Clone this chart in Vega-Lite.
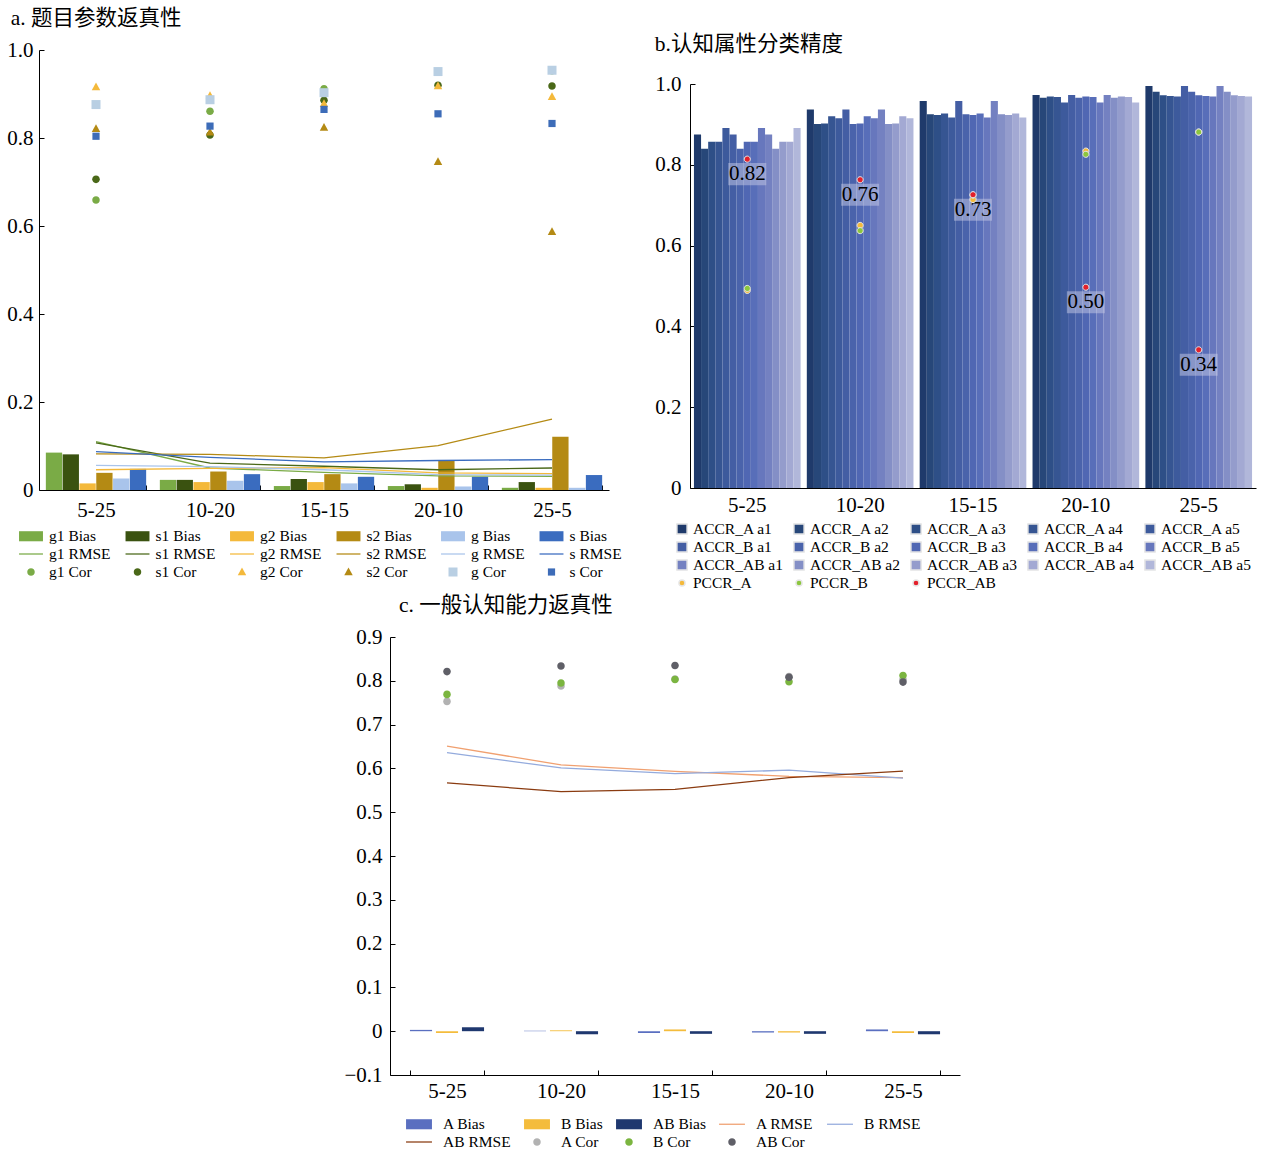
{
 "$schema": "https://vega.github.io/schema/vega-lite/v6.json",
 "background": "white",
 "padding": {"left": 6, "top": 7, "right": 2, "bottom": 2},
 "config": {
  "font": "Liberation Serif, Noto Sans CJK SC, serif",
  "view": {"stroke": null},
  "axis": {"grid": false, "domainColor": "#000", "tickColor": "#000", "labelColor": "#000", "labelFontSize": 21, "labelFont": "Liberation Serif", "tickSize": -5, "domainWidth": 1, "tickWidth": 1},
  "axisX": {"labelAngle": 0},
  "legend": {"labelFont": "Liberation Serif", "labelFontSize": 15.5, "labelColor": "#000", "rowPadding": 0, "orient": "none", "direction": "horizontal"},
  "title": {"font": "Liberation Serif, Noto Sans CJK SC, serif", "fontSize": 21.5, "fontWeight": "normal", "color": "#000", "anchor": "start"}
 },
 "datasets": {
  "aBias": [
   {"cond":"5-25","series":"g1 Bias","value":0.085},{"cond":"5-25","series":"s1 Bias","value":0.081},{"cond":"5-25","series":"g2 Bias","value":0.015},{"cond":"5-25","series":"s2 Bias","value":0.039},{"cond":"5-25","series":"g Bias","value":0.026},{"cond":"5-25","series":"s Bias","value":0.048},
   {"cond":"10-20","series":"g1 Bias","value":0.023},{"cond":"10-20","series":"s1 Bias","value":0.023},{"cond":"10-20","series":"g2 Bias","value":0.018},{"cond":"10-20","series":"s2 Bias","value":0.042},{"cond":"10-20","series":"g Bias","value":0.021},{"cond":"10-20","series":"s Bias","value":0.036},
   {"cond":"15-15","series":"g1 Bias","value":0.009},{"cond":"15-15","series":"s1 Bias","value":0.025},{"cond":"15-15","series":"g2 Bias","value":0.018},{"cond":"15-15","series":"s2 Bias","value":0.036},{"cond":"15-15","series":"g Bias","value":0.015},{"cond":"15-15","series":"s Bias","value":0.030},
   {"cond":"20-10","series":"g1 Bias","value":0.009},{"cond":"20-10","series":"s1 Bias","value":0.013},{"cond":"20-10","series":"g2 Bias","value":0.005},{"cond":"20-10","series":"s2 Bias","value":0.068},{"cond":"20-10","series":"g Bias","value":0.008},{"cond":"20-10","series":"s Bias","value":0.030},
   {"cond":"25-5","series":"g1 Bias","value":0.005},{"cond":"25-5","series":"s1 Bias","value":0.018},{"cond":"25-5","series":"g2 Bias","value":0.005},{"cond":"25-5","series":"s2 Bias","value":0.121},{"cond":"25-5","series":"g Bias","value":0.005},{"cond":"25-5","series":"s Bias","value":0.034}
  ],
  "aRMSE": [
   {"cond":"5-25","series":"g1 RMSE","value":0.110},{"cond":"10-20","series":"g1 RMSE","value":0.050},{"cond":"15-15","series":"g1 RMSE","value":0.040},{"cond":"20-10","series":"g1 RMSE","value":0.032},{"cond":"25-5","series":"g1 RMSE","value":0.031},
   {"cond":"5-25","series":"s1 RMSE","value":0.107},{"cond":"10-20","series":"s1 RMSE","value":0.061},{"cond":"15-15","series":"s1 RMSE","value":0.054},{"cond":"20-10","series":"s1 RMSE","value":0.046},{"cond":"25-5","series":"s1 RMSE","value":0.050},
   {"cond":"5-25","series":"g2 RMSE","value":0.046},{"cond":"10-20","series":"g2 RMSE","value":0.049},{"cond":"15-15","series":"g2 RMSE","value":0.051},{"cond":"20-10","series":"g2 RMSE","value":0.039},{"cond":"25-5","series":"g2 RMSE","value":0.037},
   {"cond":"5-25","series":"s2 RMSE","value":0.082},{"cond":"10-20","series":"s2 RMSE","value":0.081},{"cond":"15-15","series":"s2 RMSE","value":0.073},{"cond":"20-10","series":"s2 RMSE","value":0.101},{"cond":"25-5","series":"s2 RMSE","value":0.161},
   {"cond":"5-25","series":"g RMSE","value":0.056},{"cond":"10-20","series":"g RMSE","value":0.053},{"cond":"15-15","series":"g RMSE","value":0.046},{"cond":"20-10","series":"g RMSE","value":0.035},{"cond":"25-5","series":"g RMSE","value":0.034},
   {"cond":"5-25","series":"s RMSE","value":0.087},{"cond":"10-20","series":"s RMSE","value":0.074},{"cond":"15-15","series":"s RMSE","value":0.064},{"cond":"20-10","series":"s RMSE","value":0.067},{"cond":"25-5","series":"s RMSE","value":0.069}
  ],
  "aCor": [
   {"cond":"5-25","series":"g1 Cor","value":0.659},{"cond":"10-20","series":"g1 Cor","value":0.861},{"cond":"15-15","series":"g1 Cor","value":0.912},{"cond":"20-10","series":"g1 Cor","value":0.950},{"cond":"25-5","series":"g1 Cor","value":0.953},
   {"cond":"5-25","series":"s1 Cor","value":0.706},{"cond":"10-20","series":"s1 Cor","value":0.807},{"cond":"15-15","series":"s1 Cor","value":0.886},{"cond":"20-10","series":"s1 Cor","value":0.920},{"cond":"25-5","series":"s1 Cor","value":0.918},
   {"cond":"5-25","series":"g2 Cor","value":0.916},{"cond":"10-20","series":"g2 Cor","value":0.896},{"cond":"15-15","series":"g2 Cor","value":0.878},{"cond":"20-10","series":"g2 Cor","value":0.918},{"cond":"25-5","series":"g2 Cor","value":0.894},
   {"cond":"5-25","series":"s2 Cor","value":0.821},{"cond":"10-20","series":"s2 Cor","value":0.813},{"cond":"15-15","series":"s2 Cor","value":0.824},{"cond":"20-10","series":"s2 Cor","value":0.746},{"cond":"25-5","series":"s2 Cor","value":0.587},
   {"cond":"5-25","series":"g Cor","value":0.876},{"cond":"10-20","series":"g Cor","value":0.887},{"cond":"15-15","series":"g Cor","value":0.903},{"cond":"20-10","series":"g Cor","value":0.951},{"cond":"25-5","series":"g Cor","value":0.954},
   {"cond":"5-25","series":"s Cor","value":0.804},{"cond":"10-20","series":"s Cor","value":0.827},{"cond":"15-15","series":"s Cor","value":0.865},{"cond":"20-10","series":"s Cor","value":0.855},{"cond":"25-5","series":"s Cor","value":0.833}
  ],
  "bACCR": [
   {"cond":"5-25","series":"ACCR_A a1","value":0.875},{"cond":"5-25","series":"ACCR_A a2","value":0.840},{"cond":"5-25","series":"ACCR_A a3","value":0.857},{"cond":"5-25","series":"ACCR_A a4","value":0.857},{"cond":"5-25","series":"ACCR_A a5","value":0.891},
   {"cond":"5-25","series":"ACCR_B a1","value":0.875},{"cond":"5-25","series":"ACCR_B a2","value":0.840},{"cond":"5-25","series":"ACCR_B a3","value":0.857},{"cond":"5-25","series":"ACCR_B a4","value":0.857},{"cond":"5-25","series":"ACCR_B a5","value":0.891},
   {"cond":"5-25","series":"ACCR_AB a1","value":0.875},{"cond":"5-25","series":"ACCR_AB a2","value":0.840},{"cond":"5-25","series":"ACCR_AB a3","value":0.857},{"cond":"5-25","series":"ACCR_AB a4","value":0.857},{"cond":"5-25","series":"ACCR_AB a5","value":0.891},
   {"cond":"10-20","series":"ACCR_A a1","value":0.937},{"cond":"10-20","series":"ACCR_A a2","value":0.901},{"cond":"10-20","series":"ACCR_A a3","value":0.902},{"cond":"10-20","series":"ACCR_A a4","value":0.920},{"cond":"10-20","series":"ACCR_A a5","value":0.915},
   {"cond":"10-20","series":"ACCR_B a1","value":0.937},{"cond":"10-20","series":"ACCR_B a2","value":0.901},{"cond":"10-20","series":"ACCR_B a3","value":0.902},{"cond":"10-20","series":"ACCR_B a4","value":0.920},{"cond":"10-20","series":"ACCR_B a5","value":0.915},
   {"cond":"10-20","series":"ACCR_AB a1","value":0.937},{"cond":"10-20","series":"ACCR_AB a2","value":0.901},{"cond":"10-20","series":"ACCR_AB a3","value":0.902},{"cond":"10-20","series":"ACCR_AB a4","value":0.920},{"cond":"10-20","series":"ACCR_AB a5","value":0.915},
   {"cond":"15-15","series":"ACCR_A a1","value":0.958},{"cond":"15-15","series":"ACCR_A a2","value":0.925},{"cond":"15-15","series":"ACCR_A a3","value":0.923},{"cond":"15-15","series":"ACCR_A a4","value":0.927},{"cond":"15-15","series":"ACCR_A a5","value":0.917},
   {"cond":"15-15","series":"ACCR_B a1","value":0.958},{"cond":"15-15","series":"ACCR_B a2","value":0.925},{"cond":"15-15","series":"ACCR_B a3","value":0.923},{"cond":"15-15","series":"ACCR_B a4","value":0.927},{"cond":"15-15","series":"ACCR_B a5","value":0.917},
   {"cond":"15-15","series":"ACCR_AB a1","value":0.958},{"cond":"15-15","series":"ACCR_AB a2","value":0.925},{"cond":"15-15","series":"ACCR_AB a3","value":0.923},{"cond":"15-15","series":"ACCR_AB a4","value":0.927},{"cond":"15-15","series":"ACCR_AB a5","value":0.917},
   {"cond":"20-10","series":"ACCR_A a1","value":0.973},{"cond":"20-10","series":"ACCR_A a2","value":0.966},{"cond":"20-10","series":"ACCR_A a3","value":0.969},{"cond":"20-10","series":"ACCR_A a4","value":0.968},{"cond":"20-10","series":"ACCR_A a5","value":0.954},
   {"cond":"20-10","series":"ACCR_B a1","value":0.973},{"cond":"20-10","series":"ACCR_B a2","value":0.966},{"cond":"20-10","series":"ACCR_B a3","value":0.969},{"cond":"20-10","series":"ACCR_B a4","value":0.968},{"cond":"20-10","series":"ACCR_B a5","value":0.954},
   {"cond":"20-10","series":"ACCR_AB a1","value":0.973},{"cond":"20-10","series":"ACCR_AB a2","value":0.966},{"cond":"20-10","series":"ACCR_AB a3","value":0.969},{"cond":"20-10","series":"ACCR_AB a4","value":0.968},{"cond":"20-10","series":"ACCR_AB a5","value":0.954},
   {"cond":"25-5","series":"ACCR_A a1","value":0.995},{"cond":"25-5","series":"ACCR_A a2","value":0.981},{"cond":"25-5","series":"ACCR_A a3","value":0.972},{"cond":"25-5","series":"ACCR_A a4","value":0.970},{"cond":"25-5","series":"ACCR_A a5","value":0.969},
   {"cond":"25-5","series":"ACCR_B a1","value":0.995},{"cond":"25-5","series":"ACCR_B a2","value":0.981},{"cond":"25-5","series":"ACCR_B a3","value":0.972},{"cond":"25-5","series":"ACCR_B a4","value":0.970},{"cond":"25-5","series":"ACCR_B a5","value":0.969},
   {"cond":"25-5","series":"ACCR_AB a1","value":0.995},{"cond":"25-5","series":"ACCR_AB a2","value":0.981},{"cond":"25-5","series":"ACCR_AB a3","value":0.972},{"cond":"25-5","series":"ACCR_AB a4","value":0.970},{"cond":"25-5","series":"ACCR_AB a5","value":0.969}
  ],
  "bPCCR": [
   {"cond":"5-25","series":"PCCR_A","value":0.489},{"cond":"10-20","series":"PCCR_A","value":0.650},{"cond":"15-15","series":"PCCR_A","value":0.714},{"cond":"20-10","series":"PCCR_A","value":0.834},{"cond":"25-5","series":"PCCR_A","value":0.881},
   {"cond":"5-25","series":"PCCR_B","value":0.494},{"cond":"10-20","series":"PCCR_B","value":0.637},{"cond":"15-15","series":"PCCR_B","value":0.725},{"cond":"20-10","series":"PCCR_B","value":0.826},{"cond":"25-5","series":"PCCR_B","value":0.881},
   {"cond":"5-25","series":"PCCR_AB","value":0.814},{"cond":"10-20","series":"PCCR_AB","value":0.763},{"cond":"15-15","series":"PCCR_AB","value":0.726},{"cond":"20-10","series":"PCCR_AB","value":0.497},{"cond":"25-5","series":"PCCR_AB","value":0.342}
  ],
  "bLabel": [
   {"cond":"5-25","value":0.814,"label":"0.82"},{"cond":"10-20","value":0.763,"label":"0.76"},{"cond":"15-15","value":0.726,"label":"0.73"},{"cond":"20-10","value":0.497,"label":"0.50"},{"cond":"25-5","value":0.342,"label":"0.34"}
  ],
  "cBias": [
   {"cond":"5-25","series":"A Bias","value":0.003},{"cond":"5-25","series":"B Bias","value":-0.004},{"cond":"5-25","series":"AB Bias","value":0.009},
   {"cond":"10-20","series":"A Bias","value":0.001},{"cond":"10-20","series":"B Bias","value":0.002},{"cond":"10-20","series":"AB Bias","value":-0.007},
   {"cond":"15-15","series":"A Bias","value":-0.004},{"cond":"15-15","series":"B Bias","value":0.004},{"cond":"15-15","series":"AB Bias","value":-0.006},
   {"cond":"20-10","series":"A Bias","value":-0.003},{"cond":"20-10","series":"B Bias","value":-0.003},{"cond":"20-10","series":"AB Bias","value":-0.006},
   {"cond":"25-5","series":"A Bias","value":0.004},{"cond":"25-5","series":"B Bias","value":-0.004},{"cond":"25-5","series":"AB Bias","value":-0.007}
  ],
  "cRMSE": [
   {"cond":"5-25","series":"A RMSE","value":0.651},{"cond":"10-20","series":"A RMSE","value":0.608},{"cond":"15-15","series":"A RMSE","value":0.593},{"cond":"20-10","series":"A RMSE","value":0.582},{"cond":"25-5","series":"A RMSE","value":0.579},
   {"cond":"5-25","series":"B RMSE","value":0.636},{"cond":"10-20","series":"B RMSE","value":0.601},{"cond":"15-15","series":"B RMSE","value":0.588},{"cond":"20-10","series":"B RMSE","value":0.596},{"cond":"25-5","series":"B RMSE","value":0.578},
   {"cond":"5-25","series":"AB RMSE","value":0.567},{"cond":"10-20","series":"AB RMSE","value":0.547},{"cond":"15-15","series":"AB RMSE","value":0.552},{"cond":"20-10","series":"AB RMSE","value":0.579},{"cond":"25-5","series":"AB RMSE","value":0.594}
  ],
  "cCor": [
   {"cond":"5-25","series":"A Cor","value":0.753},{"cond":"10-20","series":"A Cor","value":0.788},{"cond":"15-15","series":"A Cor","value":0.804},{"cond":"20-10","series":"A Cor","value":0.810},{"cond":"25-5","series":"A Cor","value":0.803},
   {"cond":"5-25","series":"B Cor","value":0.769},{"cond":"10-20","series":"B Cor","value":0.795},{"cond":"15-15","series":"B Cor","value":0.803},{"cond":"20-10","series":"B Cor","value":0.798},{"cond":"25-5","series":"B Cor","value":0.812},
   {"cond":"5-25","series":"AB Cor","value":0.821},{"cond":"10-20","series":"AB Cor","value":0.834},{"cond":"15-15","series":"AB Cor","value":0.835},{"cond":"20-10","series":"AB Cor","value":0.808},{"cond":"25-5","series":"AB Cor","value":0.797}
  ],
  "spacer": [{"v": 0}]
 },
 "resolve": {"scale": {"color": "independent", "shape": "independent", "fill": "independent", "stroke": "independent", "xOffset": "independent"}, "legend": {"color": "independent", "shape": "independent"}},
 "vconcat": [
  {
   "resolve": {"scale": {"color": "independent", "shape": "independent", "fill": "independent", "stroke": "independent", "xOffset": "independent"}, "legend": {"color": "independent", "shape": "independent"}},
   "hconcat": [
    {
     "width": 570, "height": 440,
     "title": {"text": "a. 题目参数返真性", "frame": "bounds", "offset": 10, "dx": 4},
     "encoding": {
      "x": {"field": "cond", "type": "nominal", "title": null, "scale": {"domain": ["5-25","10-20","15-15","20-10","25-5"], "paddingInner": 0.12, "paddingOuter": 0.06}, "axis": {"tickBand": "extent", "labelPadding": 14}},
      "y": {"field": "value", "type": "quantitative", "title": null, "scale": {"domain": [0, 1], "nice": false}, "axis": {"values": [0, 0.2, 0.4, 0.6, 0.8, 1], "labelExpr": "datum.value == 0 ? '0' : format(datum.value, '.1f')", "labelPadding": 11}}
     },
     "layer": [
      {
       "data": {"name": "aBias"},
       "mark": {"type": "bar"},
       "encoding": {
        "xOffset": {"field": "series", "type": "nominal", "scale": {"domain": ["g1 Bias","s1 Bias","g2 Bias","s2 Bias","g Bias","s Bias"], "paddingInner": 0.03}},
        "fill": {"field": "series", "type": "nominal", "legend": null,
         "scale": {"domain": ["g1 Bias","s1 Bias","g2 Bias","s2 Bias","g Bias","s Bias"],
                   "range": ["#7aab46","#3a5210","#f4b93b","#b48a14","#a9c4eb","#3a6cbf"]}}
       }
      },
      {
       "data": {"name": "aRMSE"},
       "mark": {"type": "line", "strokeWidth": 1.3},
       "encoding": {
        "order": {"value": null},
        "stroke": {"field": "series", "type": "nominal", "legend": null,
         "scale": {"domain": ["g1 RMSE","s1 RMSE","g2 RMSE","s2 RMSE","g RMSE","s RMSE"],
                   "range": ["#7aab46","#4a6818","#f4b93b","#b48a14","#a9c4eb","#3a6cbf"]}}
       }
      },
      {
       "data": {"name": "aCor"},
       "mark": {"type": "point", "filled": true, "opacity": 1, "size": 324},
       "encoding": {
        "color": {"field": "series", "type": "nominal",
         "scale": {"domain": ["g1 Bias","s1 Bias","g2 Bias","s2 Bias","g Bias","s Bias","g1 RMSE","s1 RMSE","g2 RMSE","s2 RMSE","g RMSE","s RMSE","g1 Cor","s1 Cor","g2 Cor","s2 Cor","g Cor","s Cor"],
                   "range": ["#7aab46","#3a5210","#f4b93b","#b48a14","#a9c4eb","#3a6cbf","#7aab46","#4a6818","#f4b93b","#b48a14","#a9c4eb","#3a6cbf","#7aab46","#4a6818","#f4b93b","#b48a14","#b9cfe3","#3d6cb8"]},
         "legend": {"title": null, "orient": "none", "legendX": -17, "legendY": 477, "columns": 6, "symbolSize": 324, "labelOffset": 9, "columnPadding": 14.5, "rowPadding": 0, "symbolStrokeWidth": 0}},
        "shape": {"field": "series", "type": "nominal",
         "scale": {"domain": ["g1 Bias","s1 Bias","g2 Bias","s2 Bias","g Bias","s Bias","g1 RMSE","s1 RMSE","g2 RMSE","s2 RMSE","g RMSE","s RMSE","g1 Cor","s1 Cor","g2 Cor","s2 Cor","g Cor","s Cor"],
                   "range": ["M-1.33,-0.56H1.33V0.56H-1.33Z","M-1.33,-0.56H1.33V0.56H-1.33Z","M-1.33,-0.56H1.33V0.56H-1.33Z","M-1.33,-0.56H1.33V0.56H-1.33Z","M-1.33,-0.56H1.33V0.56H-1.33Z","M-1.33,-0.56H1.33V0.56H-1.33Z",
                             "M-1.33,-0.07H1.33V0.07H-1.33Z","M-1.33,-0.07H1.33V0.07H-1.33Z","M-1.33,-0.07H1.33V0.07H-1.33Z","M-1.33,-0.07H1.33V0.07H-1.33Z","M-1.33,-0.07H1.33V0.07H-1.33Z","M-1.33,-0.07H1.33V0.07H-1.33Z",
                             "M0.42,0A0.42,0.42 0 1,1 -0.42,0A0.42,0.42 0 1,1 0.42,0Z","M0.42,0A0.42,0.42 0 1,1 -0.42,0A0.42,0.42 0 1,1 0.42,0Z","M0,-0.5L0.47,0.36L-0.47,0.36Z","M0,-0.5L0.47,0.36L-0.47,0.36Z","M-0.5,-0.5H0.5V0.5H-0.5Z","M-0.4,-0.4H0.4V0.4H-0.4Z"]},
         "legend": {"title": null, "orient": "none", "legendX": -17, "legendY": 477, "columns": 6, "symbolSize": 324, "labelOffset": 9, "columnPadding": 14.5, "rowPadding": 0, "symbolStrokeWidth": 0}}
       }
      }
     ]
    },
    {
     "resolve": {"scale": {"color": "independent", "shape": "independent", "fill": "independent", "stroke": "independent", "xOffset": "independent"}, "legend": {"color": "independent", "shape": "independent"}},
     "vconcat": [
      {"width": 1, "height": 1, "data": {"name": "spacer"}, "mark": {"type": "text", "text": ""}, "encoding": {}},
      {
       "width": 566, "height": 404,
       "title": {"text": "b.认知属性分类精度", "frame": "bounds", "offset": 18},
       "encoding": {
        "x": {"field": "cond", "type": "nominal", "title": null, "scale": {"domain": ["5-25","10-20","15-15","20-10","25-5"], "paddingInner": 0.055, "paddingOuter": 0.035}, "axis": {"ticks": false, "labelPadding": 6}},
        "y": {"field": "value", "type": "quantitative", "title": null, "scale": {"domain": [0, 1], "nice": false}, "axis": {"values": [0, 0.2, 0.4, 0.6, 0.8, 1], "labelExpr": "datum.value == 0 ? '0' : format(datum.value, '.1f')", "labelPadding": 14}}
       },
       "layer": [
        {
         "data": {"name": "bACCR"},
         "mark": {"type": "bar"},
         "encoding": {
          "xOffset": {"field": "series", "type": "nominal", "scale": {"domain": ["ACCR_A a1","ACCR_A a2","ACCR_A a3","ACCR_A a4","ACCR_A a5","ACCR_B a1","ACCR_B a2","ACCR_B a3","ACCR_B a4","ACCR_B a5","ACCR_AB a1","ACCR_AB a2","ACCR_AB a3","ACCR_AB a4","ACCR_AB a5"], "paddingInner": 0, "paddingOuter": 0}},
          "fill": {"field": "series", "type": "nominal", "legend": null,
           "scale": {"domain": ["ACCR_A a1","ACCR_A a2","ACCR_A a3","ACCR_A a4","ACCR_A a5","ACCR_B a1","ACCR_B a2","ACCR_B a3","ACCR_B a4","ACCR_B a5","ACCR_AB a1","ACCR_AB a2","ACCR_AB a3","ACCR_AB a4","ACCR_AB a5"],
                     "range": ["#1f3a6b","#274779","#2e4f87","#365592","#3d5a9c","#445ea4","#4a63ab","#5067b3","#586eb9","#6777bd","#7481c1","#848fc6","#949ccc","#a3a9d3","#b1b7da"]}}
         }
        },
        {
         "data": {"name": "bLabel"},
         "mark": {"type": "point", "filled": true, "shape": "M-1,-0.58H1V0.58H-1Z", "size": 1444, "yOffset": 15, "color": "#c5c9e6", "opacity": 0.5},
         "encoding": {}
        },
        {
         "data": {"name": "bLabel"},
         "mark": {"type": "text", "dy": 15, "fontSize": 21, "font": "Liberation Serif", "color": "#000", "baseline": "middle"},
         "encoding": {"text": {"field": "label", "type": "nominal"}}
        },
        {
         "data": {"name": "bPCCR"},
         "mark": {"type": "point", "filled": true, "opacity": 1, "size": 289, "stroke": "#e6e6e6", "strokeWidth": 1},
         "encoding": {
          "color": {"field": "series", "type": "nominal",
           "scale": {"domain": ["ACCR_A a1","ACCR_A a2","ACCR_A a3","ACCR_A a4","ACCR_A a5","ACCR_B a1","ACCR_B a2","ACCR_B a3","ACCR_B a4","ACCR_B a5","ACCR_AB a1","ACCR_AB a2","ACCR_AB a3","ACCR_AB a4","ACCR_AB a5","PCCR_A","PCCR_B","PCCR_AB"],
                     "range": ["#1f3a6b","#274779","#2e4f87","#365592","#3d5a9c","#445ea4","#4a63ab","#5067b3","#586eb9","#6777bd","#7481c1","#848fc6","#949ccc","#a3a9d3","#b1b7da","#f4b93b","#8cc63e","#e3202b"]},
           "legend": {"title": null, "orient": "none", "legendX": -17.5, "legendY": 435.5, "columns": 5, "symbolSize": 289, "labelOffset": 1.5, "columnPadding": 6, "rowPadding": 0}},
          "shape": {"field": "series", "type": "nominal",
           "scale": {"domain": ["ACCR_A a1","ACCR_A a2","ACCR_A a3","ACCR_A a4","ACCR_A a5","ACCR_B a1","ACCR_B a2","ACCR_B a3","ACCR_B a4","ACCR_B a5","ACCR_AB a1","ACCR_AB a2","ACCR_AB a3","ACCR_AB a4","ACCR_AB a5","PCCR_A","PCCR_B","PCCR_AB"],
                     "range": ["M-0.6,-0.6H0.6V0.6H-0.6Z","M-0.6,-0.6H0.6V0.6H-0.6Z","M-0.6,-0.6H0.6V0.6H-0.6Z","M-0.6,-0.6H0.6V0.6H-0.6Z","M-0.6,-0.6H0.6V0.6H-0.6Z","M-0.6,-0.6H0.6V0.6H-0.6Z","M-0.6,-0.6H0.6V0.6H-0.6Z","M-0.6,-0.6H0.6V0.6H-0.6Z","M-0.6,-0.6H0.6V0.6H-0.6Z","M-0.6,-0.6H0.6V0.6H-0.6Z","M-0.6,-0.6H0.6V0.6H-0.6Z","M-0.6,-0.6H0.6V0.6H-0.6Z","M-0.6,-0.6H0.6V0.6H-0.6Z","M-0.6,-0.6H0.6V0.6H-0.6Z","M-0.6,-0.6H0.6V0.6H-0.6Z",
                               "M0.36,0A0.36,0.36 0 1,1 -0.36,0A0.36,0.36 0 1,1 0.36,0Z","M0.36,0A0.36,0.36 0 1,1 -0.36,0A0.36,0.36 0 1,1 0.36,0Z","M0.36,0A0.36,0.36 0 1,1 -0.36,0A0.36,0.36 0 1,1 0.36,0Z"]},
           "legend": {"title": null, "orient": "none", "legendX": -17.5, "legendY": 435.5, "columns": 5, "symbolSize": 289, "labelOffset": 1.5, "columnPadding": 6, "rowPadding": 0}}
         }
        }
       ]
      }
     ],
     "spacing": -23
    }
   ],
   "spacing": 32
  },
  {
   "resolve": {"scale": {"color": "independent", "shape": "independent", "fill": "independent", "stroke": "independent", "xOffset": "independent"}, "legend": {"color": "independent", "shape": "independent"}},
   "hconcat": [
    {"width": 284, "height": 1, "data": {"name": "spacer"}, "mark": {"type": "text", "text": ""}, "encoding": {}},
    {
     "width": 570, "height": 438,
     "title": {"text": "c. 一般认知能力返真性", "frame": "group", "offset": 10, "dx": 9},
     "encoding": {
      "x": {"field": "cond", "type": "nominal", "title": null, "scale": {"domain": ["5-25","10-20","15-15","20-10","25-5"], "paddingInner": 0.35, "paddingOuter": 0.175}, "axis": {"tickBand": "extent", "labelPadding": 10}},
      "y": {"field": "value", "type": "quantitative", "title": null, "scale": {"domain": [-0.1, 0.9], "nice": false, "zero": false}, "axis": {"values": [-0.1, 0, 0.1, 0.2, 0.3, 0.4, 0.5, 0.6, 0.7, 0.8, 0.9], "labelExpr": "abs(datum.value) < 0.001 ? '0' : format(datum.value, '.1f')", "labelPadding": 13}}
     },
     "layer": [
      {
       "data": {"name": "cBias"},
       "mark": {"type": "bar"},
       "encoding": {
        "xOffset": {"field": "series", "type": "nominal", "scale": {"domain": ["A Bias","B Bias","AB Bias"], "paddingInner": 0.15, "paddingOuter": 0}},
        "fill": {"field": "series", "type": "nominal", "legend": null,
         "scale": {"domain": ["A Bias","B Bias","AB Bias"], "range": ["#5a6fc0","#f4bc3c","#1f386f"]}}
       }
      },
      {
       "data": {"name": "cRMSE"},
       "mark": {"type": "line", "strokeWidth": 1.3},
       "encoding": {
        "order": {"value": null},
        "stroke": {"field": "series", "type": "nominal", "legend": null,
         "scale": {"domain": ["A RMSE","B RMSE","AB RMSE"], "range": ["#f0a070","#94abdd","#8a3b10"]}}
       }
      },
      {
       "data": {"name": "cCor"},
       "mark": {"type": "point", "filled": true, "opacity": 1, "size": 324},
       "encoding": {
        "color": {"field": "series", "type": "nominal",
         "scale": {"domain": ["A Bias","B Bias","AB Bias","A RMSE","B RMSE","AB RMSE","A Cor","B Cor","AB Cor"],
                   "range": ["#5a6fc0","#f4bc3c","#1f386f","#f0a070","#94abdd","#8a3b10","#b2b2b2","#7bb540","#5f5f67"]},
         "legend": {"title": null, "orient": "none", "legendX": 20, "legendY": 478, "columns": 5, "symbolSize": 324, "labelOffset": 15, "columnPadding": 13, "rowPadding": 0, "symbolStrokeWidth": 0}},
        "shape": {"field": "series", "type": "nominal",
         "scale": {"domain": ["A Bias","B Bias","AB Bias","A RMSE","B RMSE","AB RMSE","A Cor","B Cor","AB Cor"],
                   "range": ["M-1.44,-0.56H1.44V0.56H-1.44Z","M-1.44,-0.56H1.44V0.56H-1.44Z","M-1.44,-0.56H1.44V0.56H-1.44Z","M-1.44,-0.07H1.44V0.07H-1.44Z","M-1.44,-0.07H1.44V0.07H-1.44Z","M-1.44,-0.07H1.44V0.07H-1.44Z","M0.42,0A0.42,0.42 0 1,1 -0.42,0A0.42,0.42 0 1,1 0.42,0Z","M0.42,0A0.42,0.42 0 1,1 -0.42,0A0.42,0.42 0 1,1 0.42,0Z","M0.42,0A0.42,0.42 0 1,1 -0.42,0A0.42,0.42 0 1,1 0.42,0Z"]},
         "legend": {"title": null, "orient": "none", "legendX": 20, "legendY": 478, "columns": 5, "symbolSize": 324, "labelOffset": 15, "columnPadding": 13, "rowPadding": 0, "symbolStrokeWidth": 0}}
       }
      }
     ]
    }
   ],
   "spacing": 20
  }
 ],
 "spacing": 2
}
